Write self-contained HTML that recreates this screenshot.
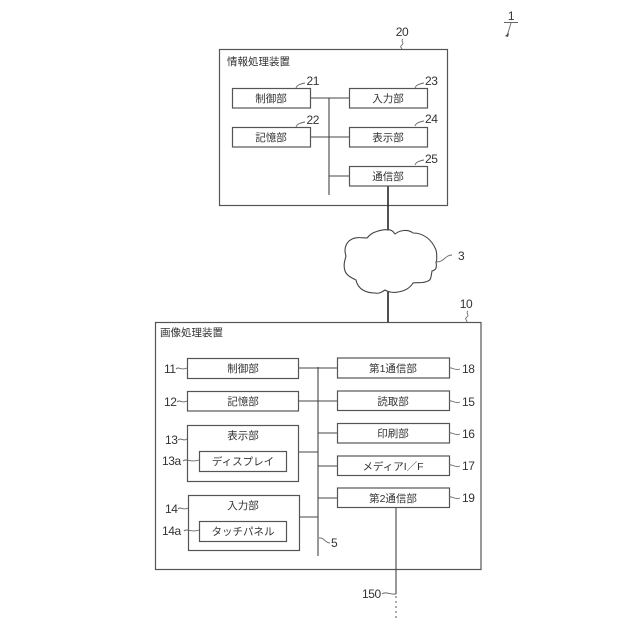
<!DOCTYPE html>
<html><head><meta charset="utf-8"><style>
html,body{margin:0;padding:0;background:#fff;width:640px;height:640px;overflow:hidden}
text{font-family:"Liberation Sans","Noto Sans CJK JP",sans-serif;font-size:10.5px;fill:#333}
.c{text-anchor:middle}
.n{font-size:12px;letter-spacing:-.4px}
.r{stroke:#555;stroke-width:1.2;fill:#fff}
.l{stroke:#444;stroke-width:1.1;fill:none}
.t{stroke:#666;stroke-width:.9;fill:none}
</style></head><body>
<svg width="640" height="640" viewBox="0 0 640 640" xmlns="http://www.w3.org/2000/svg">
<rect x="0" y="0" width="640" height="640" fill="#fff"/>
<!-- ref 1 -->
<text x="511" y="20" class="c n">1</text>
<path d="M504 22.500H518M511 23L507 36" class="t"/>
<path d="M505 36l4-3-1 4z" fill="#444"/>
<!-- box 20 -->
<rect x="219.500" y="49.500" width="228" height="156" class="r"/>
<text x="402" y="36" class="c n">20</text>
<path d="M403 39c-3 2 2 4-1 6s0 3 0 4" class="t"/>
<text x="227" y="65">情報処理装置</text>
<path d="M310 98H349M310 137H349M329 98V195M329 176H349" class="l"/>
<path d="M388 186V230" stroke="#333" stroke-width="1.7" fill="none"/>
<rect x="232.500" y="88.500" width="78" height="19.500" class="r"/>
<rect x="232.500" y="127.500" width="78" height="19.500" class="r"/>
<rect x="349.500" y="88.500" width="78" height="19.500" class="r"/>
<rect x="349.500" y="127.500" width="78" height="19.500" class="r"/>
<rect x="349.500" y="166.500" width="78" height="19.500" class="r"/>
<text x="271" y="102" class="c">制御部</text>
<text x="271" y="141" class="c">記憶部</text>
<text x="388" y="102" class="c">入力部</text>
<text x="388" y="141" class="c">表示部</text>
<text x="388" y="180" class="c">通信部</text>
<text x="306.500" y="85" class="n">21</text><path d="M296 88c1-3 4-4 9-5" class="t"/>
<text x="306.500" y="124" class="n">22</text><path d="M296 127c1-3 4-4 9-5" class="t"/>
<text x="425" y="85" class="n">23</text><path d="M415 88c1-3 4-4 9-5" class="t"/>
<text x="425" y="123" class="n">24</text><path d="M415 126c1-3 4-4 9-5" class="t"/>
<text x="425" y="163" class="n">25</text><path d="M415 165c1-3 4-4 9-5" class="t"/>
<!-- cloud -->
<path d="M388 230C392 229 394 233 395 234C400 230 408 229 413 233C424 233 432 240 436 250C437 254 437 262 436 262C437 268 436 270 432 271C431 277 431 280 428 281C422 284 416 282 413 283C410 288 405 291 398 292C394 293 388 292 385 290C382 292 379 294 375 293C367 293 358 290 356 280C352 278 347 276 345 271C343 265 345 260 346 256C344 250 345 245 349 241C355 236 362 238 367 238C371 233 375 232 378 231C382 230 385 229 388 230Z" fill="#fff" stroke="#444" stroke-width="1.1"/>
<path d="M437 262C444 262 445 255 452 255" class="t"/>
<text x="458" y="260" class="n">3</text>
<path d="M388 292V323M388 323V358" stroke="#333" stroke-width="1.7" fill="none"/>
<!-- box 10 -->
<rect x="155.500" y="322.500" width="325.500" height="247" class="r"/>
<text x="466" y="308" class="c n">10</text>
<path d="M468 311c-3 2 2 4-1 6s0 3 0 5" class="t"/>
<text x="160" y="336">画像処理装置</text>
<path d="M298 368H337M298 401H337M298 452H318M318 433H337M318 466H337M318 498H337M298 517H318M318 367V556" class="l"/>
<path d="M396 507V594" class="l"/>
<path d="M396 596V620" stroke="#555" stroke-width="1" stroke-dasharray="2 3" fill="none"/>
<rect x="187.500" y="358.500" width="111" height="20" class="r"/>
<rect x="187.500" y="391.500" width="111" height="19.500" class="r"/>
<rect x="187.500" y="425.500" width="111" height="56" class="r"/>
<rect x="199.500" y="451.500" width="87" height="20" class="r"/>
<rect x="188.500" y="495.500" width="111" height="55" class="r"/>
<rect x="199.500" y="521.500" width="87" height="20" class="r"/>
<rect x="337.500" y="358" width="112" height="20" class="r"/>
<rect x="337.500" y="391" width="112" height="19.500" class="r"/>
<rect x="337.500" y="423.500" width="112" height="19.500" class="r"/>
<rect x="337.500" y="456" width="112" height="19.500" class="r"/>
<rect x="337.500" y="488" width="112" height="19.500" class="r"/>
<text x="243" y="372" class="c">制御部</text>
<text x="243" y="405" class="c">記憶部</text>
<text x="243" y="439" class="c">表示部</text>
<text x="243" y="465" class="c">ディスプレイ</text>
<text x="243" y="509" class="c">入力部</text>
<text x="243" y="535" class="c">タッチパネル</text>
<text x="393" y="372" class="c">第1通信部</text>
<text x="393" y="405" class="c">読取部</text>
<text x="393" y="437" class="c">印刷部</text>
<text x="393" y="470" class="c">メディアI／F</text>
<text x="393" y="502" class="c">第2通信部</text>
<!-- left labels -->
<text x="164" y="373" class="n">11</text><path d="M176 369c3-3 5 2 11 -1" class="t"/>
<text x="164" y="406" class="n">12</text><path d="M177 402c3-3 5 2 10 -1" class="t"/>
<text x="165" y="444" class="n">13</text><path d="M178 440c3-3 5 2 9 -1" class="t"/>
<text x="162" y="465" class="n">13a</text><path d="M183 461c3-3 8 2 16 -1" class="t"/>
<text x="165" y="513" class="n">14</text><path d="M178 509c3-3 5 2 10 -1" class="t"/>
<text x="162" y="535" class="n">14a</text><path d="M184 531c3-3 8 2 15 -1" class="t"/>
<!-- right labels -->
<path d="M449 368c4-1 5 3 11 1" class="t"/><text x="462" y="373" class="n">18</text>
<path d="M449 401c4-1 5 3 11 1" class="t"/><text x="462" y="406" class="n">15</text>
<path d="M449 433c4-1 5 3 11 1" class="t"/><text x="462" y="438" class="n">16</text>
<path d="M449 465c4-1 5 3 11 1" class="t"/><text x="462" y="470" class="n">17</text>
<path d="M449 497c4-1 5 3 11 1" class="t"/><text x="462" y="502" class="n">19</text>
<path d="M319 538c5-1 6 5 11 5" class="t"/><text x="331" y="547" class="n">5</text>
<text x="362" y="598" class="n">150</text><path d="M382 594c4-3 8 1 14 0" class="t"/>
</svg>
</body></html>
